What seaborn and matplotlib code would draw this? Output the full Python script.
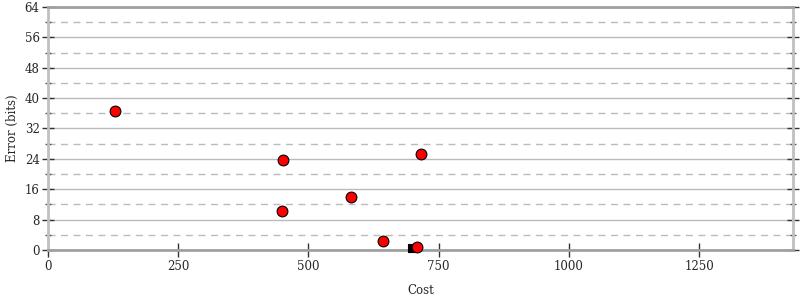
import matplotlib
matplotlib.use("Agg")
import matplotlib.pyplot as plt
import seaborn as sns
import pandas as pd
from matplotlib.ticker import MultipleLocator

cost = [128, 452, 449, 581, 643, 716, 708]
error = [36.6, 23.6, 10.2, 13.9, 2.4, 25.3, 0.7]
sq_cost = [699]
sq_error = [0.5]

x_ticks = [0, 250, 500, 750, 1000, 1250]
y_ticks = [0, 8, 16, 24, 32, 40, 48, 56, 64]

sns.set_style("white")
plt.rcParams['font.family'] = ['DejaVu Serif']

fig = plt.figure(figsize=(8, 3), dpi=100)
ax = fig.add_axes([0.06, 0.1667, 0.931, 0.81])

df = pd.DataFrame({"Cost": cost, "Error": error})
sq = pd.DataFrame({"Cost": sq_cost, "Error": sq_error})

ax.set_xlim(0, 1430)
ax.set_ylim(0, 64)
ax.yaxis.set_major_locator(MultipleLocator(8))
ax.yaxis.set_minor_locator(MultipleLocator(4))
ax.set_xticks(x_ticks)
ax.set_yticks(y_ticks)

ax.grid(True, which='major', axis='y', color='#bbbbbb', linewidth=1, linestyle='-')
ax.grid(True, which='minor', axis='y', color='#bbbbbb', linewidth=1, linestyle=(0, (5, 4)))
ax.set_axisbelow(True)

sns.scatterplot(data=sq, x="Cost", y="Error", ax=ax, marker='s', color='black',
                s=28, edgecolor='black', linewidth=0.8, zorder=3, clip_on=False)
sns.scatterplot(data=df, x="Cost", y="Error", ax=ax, marker='o', color='red',
                s=60, edgecolor='black', linewidth=0.8, zorder=4, clip_on=False)

for side in ['left', 'right', 'bottom', 'top']:
    ax.spines[side].set_visible(True)
    ax.spines[side].set_color('#a0a0a0')
    ax.spines[side].set_linewidth(2)
ax.spines['left'].set_color('#c0c0c0')
ax.spines['right'].set_color('#c0c0c0')

ax.tick_params(axis='y', which='major', direction='inout', length=8, width=1,
               color='#333333', labelsize=8.5, left=True, right=True, pad=2)
ax.tick_params(axis='y', which='minor', direction='inout', length=5, width=1,
               color='#555555', left=True, right=True)
ax.tick_params(axis='x', which='major', direction='inout', length=10, width=1,
               color='#333333', labelsize=8.5, bottom=True, pad=2)

ax.set_xlabel("Cost", fontsize=8.5, labelpad=8)
ax.set_ylabel("Error (bits)", fontsize=8.5, labelpad=4)

fig.savefig("out.png", dpi=100)
